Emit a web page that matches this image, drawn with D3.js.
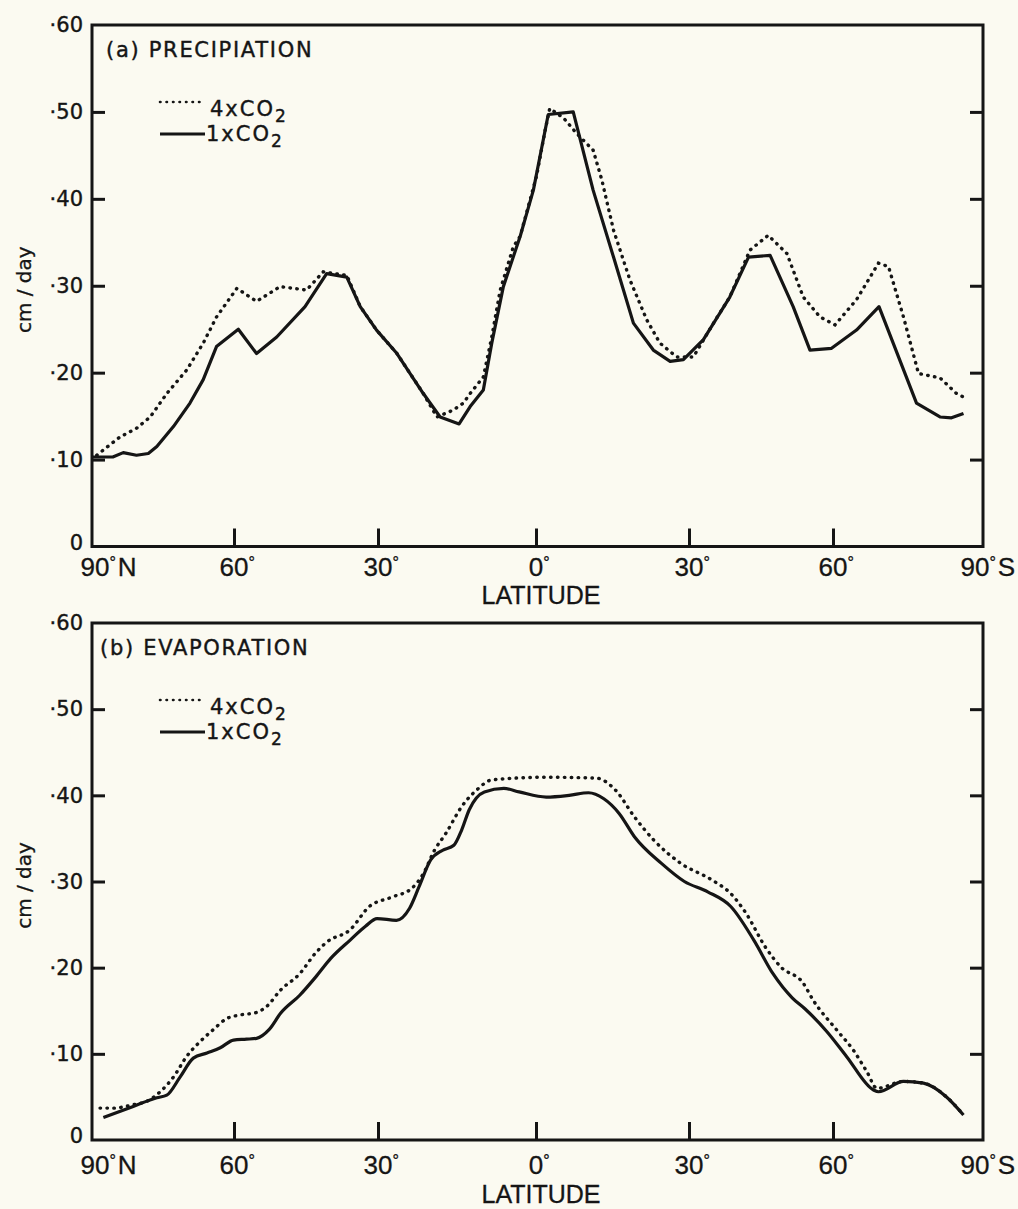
<!DOCTYPE html>
<html>
<head>
<meta charset="utf-8">
<script src="https://cdn.jsdelivr.net/npm/d3@7"></script>
<style>
  body { margin: 0; background: #fbfaf1; }
  svg { display: block; }
</style>
</head>
<body>
<svg id="fig" width="1018" height="1209"></svg>
<script>
// latitude ticks (N positive, S negative) and their labels
const latTicks = [90, 60, 30, 0, -30, -60, -90]
const latLabels = ['90', '60', '30', '0', '30', '60', '90']
const latHemi = ['N', '', '', '', '', '', 'S']

const yTicks = [0, 0.1, 0.2, 0.3, 0.4, 0.5, 0.6]
const yTickLabels = ['0', '·10', '·20', '·30', '·40', '·50', '·60']

// (a) precipitation, cm/day
const precipLat1 = [90, 85.6, 83.4, 80.6, 78.1, 76.3, 72.8, 69.3, 66.5, 63.7, 59.1, 55.3, 51.1, 45.2, 40.7, 36.5, 33.7, 30.3, 26.4, 21.4, 18.2, 14.6, 12.5, 10.0, 8.4, 6.2, 3.0, 0.5, -2.4, -7.3, -11.2, -15.2, -19.1, -23.0, -26.3, -28.9, -33.0, -38.5, -42.4, -46.9, -51.7, -55.2, -59.7, -64.7, -69.2, -76.7, -81.4, -83.7, -86.1]
const precip1x = [.103, .103, .108, .105, .107, .115, .138, .165, .192, .230, .250, .222, .241, .276, .314, .310, .276, .249, .222, .176, .149, .141, .161, .180, .234, .299, .357, .410, .497, .500, .410, .333, .257, .226, .213, .215, .238, .287, .333, .335, .276, .226, .228, .249, .276, .165, .149, .148, .153]

const precipLat4 = [89, 84.1, 80.6, 77.7, 74.2, 70.0, 66.5, 63.7, 59.4, 55.3, 50.4, 44.9, 41.4, 36.5, 33.7, 30.3, 26.4, 21.4, 18.8, 15.7, 13.8, 12.5, 10.0, 8.4, 6.8, 4.3, 3.0, -0.1, -1.8, -2.7, -5.4, -8.0, -11.2, -12.9, -15.2, -18.4, -21.7, -24.3, -27.6, -30.9, -35.1, -38.5, -42.7, -46.5, -50.4, -53.8, -57.3, -60.4, -64.7, -69.1, -71.1, -74.1, -77.1, -81.4, -84.7, -86.1]
const precip4x = [.105, .126, .136, .149, .176, .203, .234, .264, .297, .282, .299, .295, .316, .312, .276, .249, .222, .176, .149, .157, .165, .176, .195, .241, .295, .345, .357, .426, .479, .504, .493, .475, .456, .422, .364, .307, .261, .234, .218, .218, .257, .287, .341, .358, .337, .287, .264, .255, .284, .326, .322, .264, .199, .194, .176, .172]

// (b) evaporation, cm/day
const evapLat1 = [87.6, 81.3, 76.3, 74.2, 71.4, 68.6, 65.7, 62.9, 60.1, 57.4, 55.3, 52.7, 50.3, 46.3, 43.0, 39.8, 35.8, 32.6, 30.2, 26.5, 24.0, 22.2, 20.0, 17.8, 15.6, 14.1, 12.7, 9.8, 6.1, 3.2, -2.0, -6.5, -10.3, -13.3, -16.3, -19.3, -24.6, -29.1, -33.9, -38.7, -43.5, -47.5, -51.5, -54.2, -58.7, -62.7, -68.1, -69.1, -74.1, -78.1, -82.7, -86.1]
const evap1x = [.026, .039, .049, .052, .073, .095, .101, .107, .116, .117, .118, .128, .147, .168, .189, .211, .232, .248, .257, .255, .269, .294, .325, .336, .342, .360, .383, .404, .408, .404, .398, .400, .403, .396, .379, .352, .321, .300, .288, .271, .232, .193, .165, .152, .126, .097, .058, .056, .068, .066, .050, .029]

const evapLat4 = [88.3, 85.5, 81.3, 78.4, 75.6, 72.8, 70.0, 67.2, 64.4, 61.5, 58.8, 55.3, 53.2, 50.3, 46.3, 43.0, 40.6, 35.8, 31.8, 27.3, 23.6, 21.4, 19.3, 17.1, 14.1, 11.3, 8.3, -2.0, -11.8, -15.6, -19.3, -23.1, -28.4, -34.7, -38.7, -41.9, -45.9, -49.1, -53.8, -55.9, -60.7, -64.1, -66.8, -68.8, -74.1, -78.1, -82.7, -86.1]
const evap4x = [.037, .037, .041, .045, .056, .073, .097, .114, .128, .141, .145, .148, .155, .174, .193, .217, .230, .244, .271, .282, .292, .309, .336, .356, .387, .406, .418, .421, .420, .406, .375, .348, .321, .302, .286, .263, .224, .201, .182, .162, .128, .104, .079, .060, .068, .066, .050, .029]

const ink = '#151515'
const svg = d3.select('#fig')

// the hand-drawn latitude axis is not quite uniform, so map each tick to where it sits
const xStops = [92, 234, 378, 536, 689, 833, 983]
const x = d3.scaleLinear().domain(latTicks).range(xStops)

// small ink stroke on the lettering so it reads like the drafted original
function inked(t, w) {
	return t.attr('fill', ink).attr('stroke', ink).attr('stroke-width', w)
}

function drawPanel(cfg) {
	const g = svg.append('g')
	const y = d3.scaleLinear().domain([0, 0.6]).range([cfg.bottom, cfg.top])

	// frame
	g.append('rect')
		.attr('x', xStops[0]).attr('y', cfg.top)
		.attr('width', xStops[6] - xStops[0]).attr('height', cfg.bottom - cfg.top)
		.attr('fill', 'none').attr('stroke', ink).attr('stroke-width', 3)

	// left axis, ticks inside
	g.append('g')
		.attr('transform', 'translate(' + xStops[0] + ',0)')
		.call(d3.axisLeft(y).tickValues(yTicks).tickSize(-13).tickSizeOuter(0).tickPadding(9)
			.tickFormat((d, i) => yTickLabels[i]))
		.call(a => a.select('.domain').remove())
		.call(a => a.selectAll('.tick line').filter(d => d === 0 || d === 0.6).remove())
		.call(a => a.selectAll('line').attr('stroke', ink).attr('stroke-width', 3))
		.call(a => inked(a.selectAll('text'), 0.4)
			.attr('font-family', 'DejaVu Sans').attr('font-size', 21))
		.call(a => a.selectAll('.tick text').filter(d => d === 0).attr('y', -4))

	// right axis
	g.append('g')
		.attr('transform', 'translate(' + xStops[6] + ',0)')
		.call(d3.axisRight(y).tickValues(yTicks.slice(1, 6)).tickSize(-13).tickSizeOuter(0).tickFormat(''))
		.call(a => a.select('.domain').remove())
		.call(a => a.selectAll('line').attr('stroke', ink).attr('stroke-width', 3))

	// bottom axis
	g.append('g')
		.attr('transform', 'translate(0,' + cfg.bottom + ')')
		.call(d3.axisBottom(x).tickValues(latTicks.slice(1, 6)).tickSize(-18).tickSizeOuter(0).tickFormat(''))
		.call(a => a.select('.domain').remove())
		.call(a => a.selectAll('line').attr('stroke', ink).attr('stroke-width', 3))

	// latitude labels: the number is centred on the tick, degree / hemisphere follow it
	latTicks.forEach((lat, i) => {
		const cx = x(lat) + (i === 0 ? 3 : i === 6 ? -8 : 0)
		const t = inked(g.append('text'), 0.3)
			.attr('x', cx).attr('y', cfg.xLabelY)
			.attr('text-anchor', 'middle')
			.attr('font-family', 'Liberation Sans').attr('font-size', 26)
			.text(latLabels[i])
		const w = t.node().getComputedTextLength()
		const s = inked(g.append('text'), 0.3)
			.attr('x', cx + w / 2).attr('y', cfg.xLabelY)
			.attr('font-family', 'Liberation Sans').attr('font-size', 26)
		s.append('tspan').attr('font-size', 16).attr('dy', -8).text('°')
		if (latHemi[i]) s.append('tspan').attr('dy', 8).attr('dx', 2).text(latHemi[i])
	})

	inked(g.append('text'), 0.3)
		.attr('x', 541).attr('y', cfg.bottom + cfg.titleDy)
		.attr('text-anchor', 'middle')
		.attr('font-family', 'Liberation Sans').attr('font-size', 25)
		.text('LATITUDE')

	inked(g.append('text'), 0.3)
		.attr('transform', 'translate(31,' + ((cfg.top + cfg.bottom) / 2 + 4) + ') rotate(-90)')
		.attr('text-anchor', 'middle')
		.attr('font-family', 'DejaVu Sans').attr('font-size', 20)
		.text('cm / day')

	inked(g.append('text'), 0.4)
		.attr('x', cfg.titleX).attr('y', cfg.top + 32)
		.attr('font-family', 'DejaVu Sans').attr('font-size', 21)
		.attr('letter-spacing', 1.7)
		.text(cfg.title)

	// legend
	const leg = [
		{name: '4xCO', dotted: true, ly: 77, ty: 91, x1: 160, x2: 203, tx: 210},
		{name: '1xCO', dotted: false, ly: 109, ty: 116, x1: 160, x2: 205, tx: 206}
	]
	leg.forEach(d => {
		g.append('line')
			.attr('x1', d.x1).attr('x2', d.x2)
			.attr('y1', cfg.top + d.ly).attr('y2', cfg.top + d.ly)
			.attr('stroke', ink).attr('stroke-width', d.dotted ? 2.6 : 3)
			.attr('stroke-dasharray', d.dotted ? '0.5,6' : null)
			.attr('stroke-linecap', d.dotted ? 'round' : 'butt')
		const t = inked(g.append('text'), 0.4)
			.attr('x', d.tx).attr('y', cfg.top + d.ty)
			.attr('font-family', 'DejaVu Sans').attr('font-size', 21)
			.attr('letter-spacing', 2)
			.text(d.name)
		t.append('tspan').attr('dy', 6).attr('font-size', 17).text('2')
	})

	const line = d3.line()
		.x(d => x(d[0]))
		.y(d => y(d[1]))
		.curve(cfg.curve)

	g.append('path')
		.datum(d3.zip(cfg.lat4, cfg.val4))
		.attr('d', line)
		.attr('fill', 'none').attr('stroke', ink)
		.attr('stroke-width', 3.4)
		.attr('stroke-dasharray', '0.5,6.4')
		.attr('stroke-linecap', 'round')

	g.append('path')
		.datum(d3.zip(cfg.lat1, cfg.val1))
		.attr('d', line)
		.attr('fill', 'none').attr('stroke', ink)
		.attr('stroke-width', 3.2)
		.attr('stroke-linejoin', 'round')
}

drawPanel({
	top: 25, bottom: 546.5, xLabelY: 576, titleDy: 57,
	title: '(a) PRECIPIATION', titleX: 106,
	lat1: precipLat1, val1: precip1x, lat4: precipLat4, val4: precip4x,
	curve: d3.curveLinear
})

drawPanel({
	top: 623, bottom: 1140, xLabelY: 1174, titleDy: 63,
	title: '(b) EVAPORATION', titleX: 100,
	lat1: evapLat1, val1: evap1x, lat4: evapLat4, val4: evap4x,
	curve: d3.curveMonotoneX
})
</script>
</body>
</html>
